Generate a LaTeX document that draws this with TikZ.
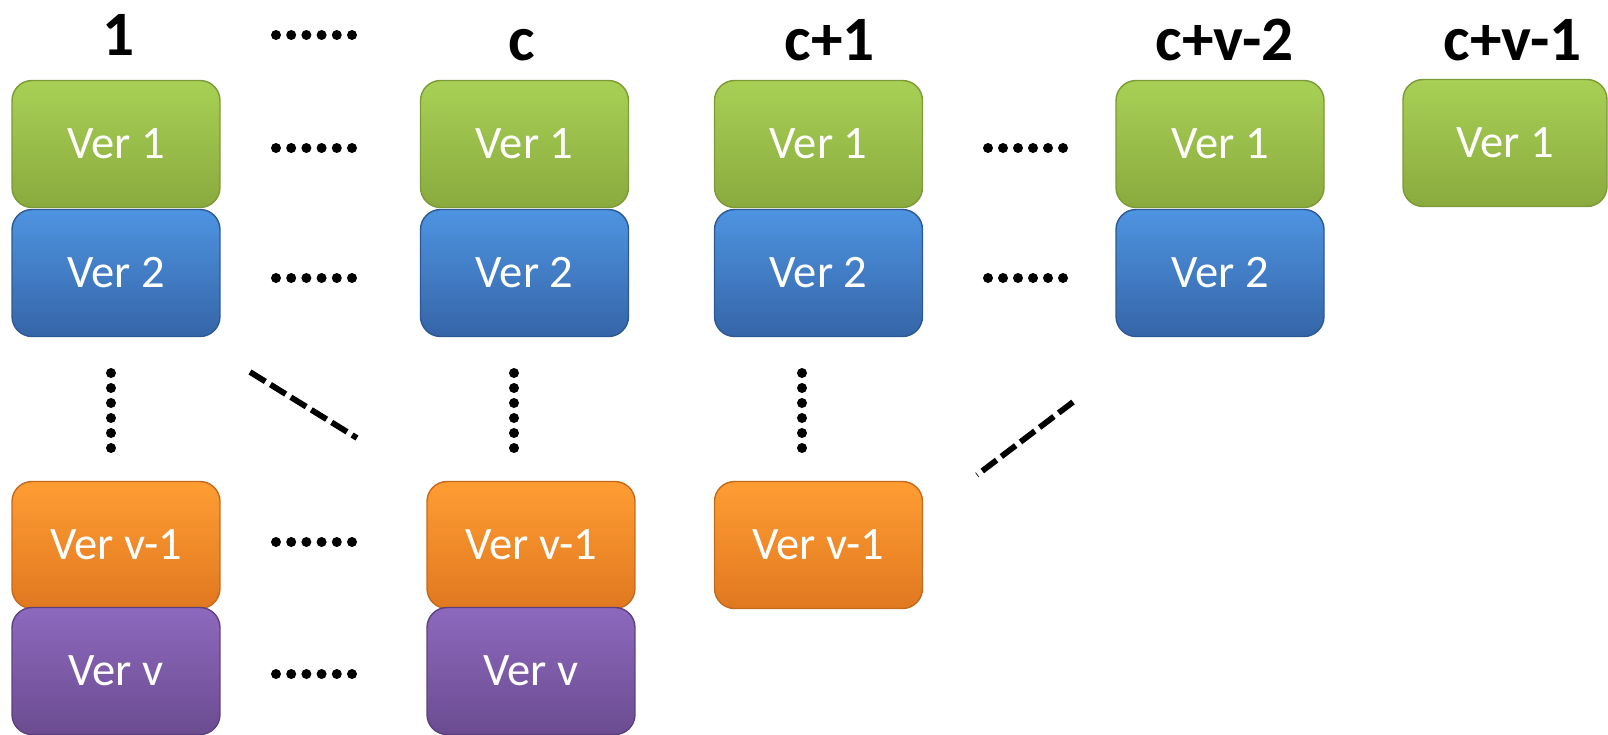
\documentclass[tikz,border=0pt]{standalone}
\usepackage{fontspec}
\setmainfont{Carlito}
\definecolor{gtop}{HTML}{A8D055}
\definecolor{gbot}{HTML}{8AAA3E}
\definecolor{gedge}{HTML}{7C9A36}
\definecolor{btop}{HTML}{4E94E1}
\definecolor{bbot}{HTML}{3565A8}
\definecolor{bedge}{HTML}{2E5893}
\definecolor{otop}{HTML}{FF9D33}
\definecolor{obot}{HTML}{E07820}
\definecolor{oedge}{HTML}{C46A1C}
\definecolor{ptop}{HTML}{8D69BE}
\definecolor{pbot}{HTML}{6B4C90}
\definecolor{pedge}{HTML}{5C4180}
\begin{document}
\begin{tikzpicture}[x=0.02cm,y=-0.02cm,
  verbox/.style={rounded corners=0.4cm, minimum width=4.16cm, minimum height=2.54cm,
    inner sep=0pt, text=white, font=\fontsize{26.5}{30}\selectfont, line width=0.8pt},
  greenbox/.style={verbox, top color=gtop, bottom color=gbot, draw=gedge},
  bluebox/.style={verbox, top color=btop, bottom color=bbot, draw=bedge},
  orangebox/.style={verbox, top color=otop, bottom color=obot, draw=oedge},
  purplebox/.style={verbox, top color=ptop, bottom color=pbot, draw=pedge},
  coltitle/.style={anchor=base, inner sep=0pt, font=\fontsize{36}{42}\selectfont\bfseries},
  dotdash/.style={line width=3.3pt, dash pattern=on 0.36cm off 0.12cm},
]
\useasboundingbox (0,0) rectangle (1608,734);

% column titles
\node[coltitle] (t1) at (119,55) {1};
\node[coltitle] (tc) at (522,60) {c};
\node[coltitle] (tc1) at (830,60) {c+1};
\node[coltitle] (tcv2) at (1225,60) {c+v-2};
\node[coltitle] (tcv1) at (1513,60) {c+v-1};

% column 1
\node[greenbox]  (a1) at (116,144) {Ver 1};
\node[bluebox]   (a2) at (116,273) {Ver 2};
\node[orangebox] (a3) at (116,545) {Ver v-1};
\node[purplebox] (a4) at (116,671) {Ver v};

% column c
\node[greenbox]  (c1) at (524.5,144) {Ver 1};
\node[bluebox]   (c2) at (524.5,273) {Ver 2};
\node[orangebox] (c3) at (531,545) {Ver v-1};
\node[purplebox] (c4) at (531,671) {Ver v};

% column c+1
\node[greenbox]  (d1) at (818.5,144) {Ver 1};
\node[bluebox]   (d2) at (818.5,273) {Ver 2};
\node[orangebox] (d3) at (818.5,545) {Ver v-1};

% column c+v-2
\node[greenbox]  (e1) at (1220,144) {Ver 1};
\node[bluebox]   (e2) at (1220,273) {Ver 2};

% column c+v-1
\node[greenbox, minimum width=4.08cm] (f1) at (1505,143) {Ver 1};

% horizontal runs of dots
\foreach \y in {35,148,278,542,674}
  \foreach \i in {0,...,5}
    \fill (276+15.2*\i,\y) circle[radius=0.1cm];
\foreach \y in {148,278}
  \foreach \i in {0,...,5}
    \fill (988+15*\i,\y) circle[radius=0.1cm];

% vertical runs of dots
\foreach \x in {111,514,802}
  \foreach \i in {0,...,5}
    \fill (\x,373+15*\i) circle[radius=0.1cm];

% diagonal dashed lines
\coordinate (la) at (250,372);
\coordinate (lb) at (357,438);
\coordinate (ra) at (1073,402);
\coordinate (rb) at (977,475);
\draw[dotdash] (la) -- (lb);
\draw[dotdash] (ra) -- (rb);
\end{tikzpicture}
\end{document}
